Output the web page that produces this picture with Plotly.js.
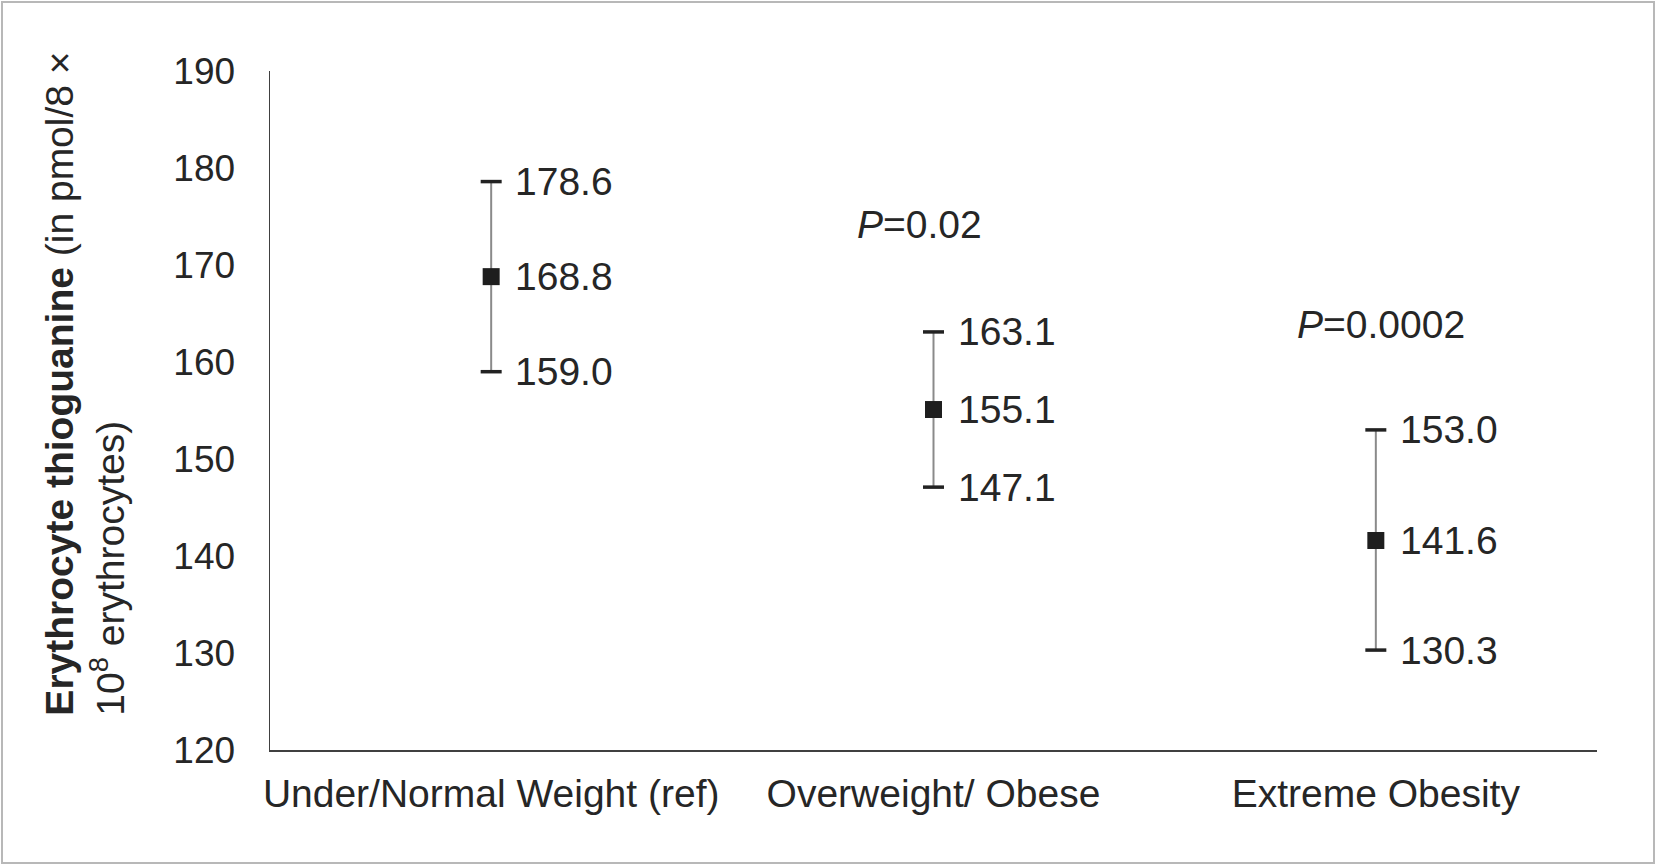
<!DOCTYPE html>
<html>
<head>
<meta charset="utf-8">
<script src="https://cdn.plot.ly/plotly-3.0.1.min.js"></script>
<style>
  html, body { margin: 0; padding: 0; background: #fff; }
  #wrap { position: relative; width: 1656px; height: 865px; }
  #chart { width: 1656px; height: 865px; }
  #frame { position: absolute; left: 1px; top: 1px; width: 1654px; height: 863px;
           box-sizing: border-box; border: 2px solid #b8b8b8; pointer-events: none; }
</style>
</head>
<body>
<div id="wrap"><div id="chart"></div><div id="frame"></div></div>
<script>
// ---- data ----
const categories = ["Under/Normal Weight (ref)", "Overweight/ Obese", "Extreme Obesity"];
const meanValues = [168.8, 155.1, 141.6];
const upperValues = [178.6, 163.1, 153.0];
const lowerValues = [159.0, 147.1, 130.3];
const pLabels = ["", "<i>P</i>=0.02", "<i>P</i>=0.0002"];
const yTickValues = [120, 130, 140, 150, 160, 170, 180, 190];

// ---- style ----
const FONT = '"Liberation Sans", Arial, Helvetica, sans-serif';
const TEXT = '#262626';
const FS = 39;

const errTrace = {
  type: 'scatter', mode: 'markers',
  x: categories, y: meanValues,
  marker: { symbol: 'square', size: 17, color: '#1e1e1e' },
  error_y: {
    type: 'data', symmetric: false,
    array: upperValues.map((u, i) => u - meanValues[i]),
    arrayminus: lowerValues.map((l, i) => meanValues[i] - l),
    color: '#8a8a8a', thickness: 2, width: 0
  },
  hoverinfo: 'skip', showlegend: false
};
const capStyle = { symbol: 'line-ew-open', size: 15, line: { width: 3.5, color: '#222' }, color: '#222' };
const upperCaps = { type: 'scatter', mode: 'markers', x: categories, y: upperValues,
  marker: capStyle, hoverinfo: 'skip', showlegend: false };
const lowerCaps = { type: 'scatter', mode: 'markers', x: categories, y: lowerValues,
  marker: capStyle, hoverinfo: 'skip', showlegend: false };

const annotations = [];
categories.forEach((c, i) => {
  [upperValues[i], meanValues[i], lowerValues[i]].forEach(v => {
    annotations.push({
      x: c, y: v, xref: 'x', yref: 'y', text: v.toFixed(1), showarrow: false,
      xanchor: 'left', yanchor: 'middle', xshift: 22,
      font: { family: FONT, size: FS, color: TEXT }
    });
  });
});
// P-value labels (placement only)
const pPlace = [null, { y: 174.2, xshift: -14 }, { y: 163.9, xshift: 5 }];
pLabels.forEach((t, i) => {
  if (!t) return;
  annotations.push({
    x: categories[i], y: pPlace[i].y, xref: 'x', yref: 'y', text: t, showarrow: false,
    xanchor: 'center', yanchor: 'middle', xshift: pPlace[i].xshift,
    font: { family: FONT, size: FS, color: TEXT }
  });
});
// Y-axis title (two lines, left-aligned when rotated)
annotations.push({
  xref: 'paper', yref: 'paper', x: -0.139, y: 0.047,
  xanchor: 'center', yanchor: 'bottom', textangle: -90, align: 'left', showarrow: false,
  text: '<b>Erythrocyte thioguanine</b> (in pmol/8 ×<br>10<sup>8</sup> erythrocytes)',
  font: { family: FONT, size: FS, color: TEXT }
});

const layout = {
  width: 1656, height: 865,
  margin: { l: 270, r: 59, t: 71, b: 115, pad: 0 },
  paper_bgcolor: '#fff', plot_bgcolor: '#fff',
  showlegend: false,
  font: { family: FONT, size: FS, color: TEXT },
  xaxis: {
    type: 'category', range: [-0.5, 2.5],
    showline: true, linecolor: '#404040', linewidth: 1.5,
    showgrid: false, zeroline: false, ticks: '',
    ticklabelstandoff: 9,
    tickfont: { family: FONT, size: FS, color: TEXT }
  },
  yaxis: {
    range: [120, 190], tickvals: yTickValues,
    showline: true, linecolor: '#404040', linewidth: 1.5,
    showgrid: false, zeroline: false, ticks: '',
    ticklabelstandoff: 26,
    tickfont: { family: FONT, size: 37, color: TEXT }
  },
  annotations: annotations
};

Plotly.newPlot('chart', [errTrace, upperCaps, lowerCaps], layout, { displayModeBar: false, staticPlot: true });
</script>
</body>
</html>
